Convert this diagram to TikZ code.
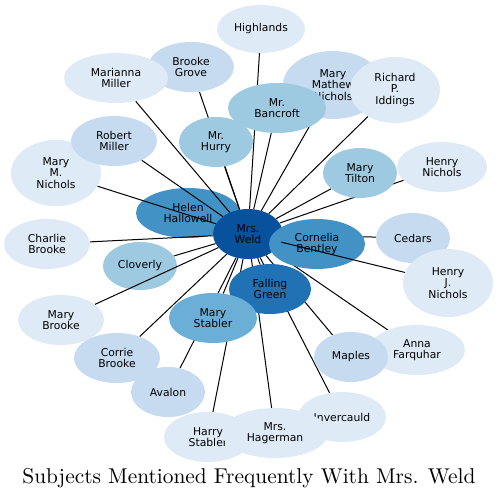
\documentclass[tikz,border=0pt]{standalone}
\usepackage{fontspec}
\newfontfamily\dv{DejaVu Sans}
\newfontfamily\lmten{lmroman10-regular.otf}
\usetikzlibrary{shapes.geometric}
\pgfdeclarelayer{lyA}
\pgfdeclarelayer{lyB}
\pgfdeclarelayer{lyC}
\pgfdeclarelayer{lyD}
\pgfsetlayers{lyA,lyB,lyC,lyD,main}
\definecolor{cA}{HTML}{DEEBF7}
\definecolor{cB}{HTML}{C6DBEF}
\definecolor{cC}{HTML}{9ECAE1}
\definecolor{cD}{HTML}{6BAED6}
\definecolor{cE}{HTML}{4292C6}
\definecolor{cF}{HTML}{2171B5}
\definecolor{cG}{HTML}{08519C}
\newcommand\mkbub[7]{\node[bub,fill=#6,minimum width=#4pt,minimum height=#5pt] (#1) at (#2,#3) {#7};}
\begin{document}
\begin{tikzpicture}[x=1pt,y=-1pt,
  bub/.style={ellipse,inner sep=0pt,align=center,text=black,font=\dv\fontsize{10.8}{11.2}\selectfont},
  link/.style={draw=black,line width=1pt}]
\useasboundingbox (0,0) rectangle (498,498);
\begin{pgfonlayer}{lyA}
\mkbub{he}{188}{213}{104}{50}{cE}{Helen\\Hallowell}
\mkbub{cl}{140}{266}{74}{48}{cC}{Cloverly}
\mkbub{we}{248}{234}{70}{50}{cG}{Mrs.\\Weld}
\end{pgfonlayer}
\begin{pgfonlayer}{lyC}
\mkbub{co}{317}{244}{96}{50}{cE}{Cornelia\\Bentley}
\end{pgfonlayer}
% main layer nodes
\mkbub{bg}{191}{67}{86}{50}{cB}{Brooke\\Grove}
\mkbub{mm}{116}{78}{104}{50}{cA}{Marianna\\Miller}
\mkbub{hl}{261}{29}{88}{48}{cA}{Highlands}
\mkbub{mmn}{333}{85}{100}{68}{cB}{Mary\\Mathew\\Nichols}
\mkbub{ba}{277}{108}{98}{50}{cC}{Mr.\\Bancroft}
\mkbub{ri}{395}{90}{90}{66}{cA}{Richard\\P.\\Iddings}
\mkbub{hu}{216}{142}{74}{50}{cC}{Mr.\\Hurry}
\mkbub{mn}{56}{173}{90}{66}{cA}{Mary\\M.\\Nichols}
\mkbub{rm}{114}{141}{86}{50}{cB}{Robert\\Miller}
\mkbub{cb}{47}{244}{86}{50}{cA}{Charlie\\Brooke}
\mkbub{mt}{360}{173}{74}{50}{cC}{Mary\\Tilton}
\mkbub{hn}{442}{167}{90}{50}{cA}{Henry\\Nichols}
\mkbub{ce}{413}{238}{74}{50}{cB}{Cedars}
\mkbub{hj}{448}{283}{90}{68}{cA}{Henry\\J.\\Nichols}
\mkbub{fg}{270}{289}{82}{50}{cF}{Falling\\Green}
\mkbub{ms}{213}{318}{88}{50}{cD}{Mary\\Stabler}
\mkbub{mb}{61}{320}{86}{50}{cA}{Mary\\Brooke}
\mkbub{cr}{117}{358}{86}{50}{cB}{Corrie\\Brooke}
\mkbub{av}{168}{392}{74}{50}{cB}{Avalon}
\mkbub{hs}{208}{437}{88}{50}{cA}{Harry\\Stabler}
\mkbub{in}{342}{417}{88}{50}{cA}{Invercauld}
\mkbub{ha}{275}{433}{106}{50}{cA}{Mrs.\\Hagerman}
\mkbub{af}{417}{350}{96}{50}{cA}{Anna\\Farquhar}
\mkbub{mp}{351}{357}{74}{50}{cB}{Maples}
\begin{pgfonlayer}{lyB}
\foreach \t in {hl,bg,mm,mmn,ri,ba,hu,rm,mn,cb,cl,mt,hn,ce,fg,ms,mb,cr,av,hs,ha,in,mp,af}
  {\draw[link] (we) -- (\t);}
\end{pgfonlayer}
\begin{pgfonlayer}{lyD}
\draw[link] (we) -- (hj);
\end{pgfonlayer}
\node[anchor=base,font=\lmten\fontsize{21.4}{24}\selectfont] (title) at (249,483) {Subjects Mentioned Frequently With Mrs. Weld};
\end{tikzpicture}
\end{document}
